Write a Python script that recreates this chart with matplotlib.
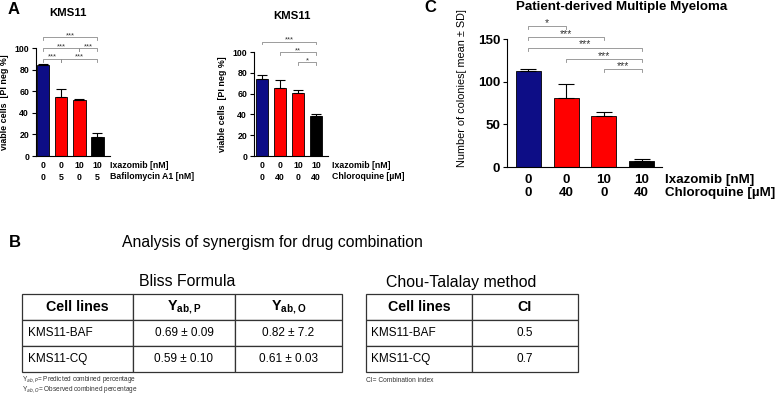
import matplotlib
matplotlib.use('Agg')
import matplotlib.pyplot as plt

plt.rcParams['font.family'] = ['Liberation Sans', 'DejaVu Sans']
plt.rcParams['mathtext.fontset'] = 'custom'
plt.rcParams['mathtext.rm'] = 'Liberation Sans'
plt.rcParams['mathtext.bf'] = 'Liberation Sans:bold'

# ---- data ----
colors = ['#0d0d86', '#ff0000', '#ff0000', '#000000']

baf_vals = [84, 55, 52, 18]
baf_err = [1.5, 7.5, 1.2, 3.5]
baf_ixa = ['0', '0', '10', '10']
baf_baf = ['0', '5', '0', '5']
baf_brackets = [(0, 3, 110, '***'), (0, 2, 100, '***'), (2, 3, 100, '***'),
                (0, 1, 90, '***'), (1, 3, 90, '***')]

cq_vals = [74, 65, 61, 38]
cq_err = [3.5, 8, 2, 2]
cq_ixa = ['0', '0', '10', '10']
cq_cq = ['0', '40', '0', '40']
cq_brackets = [(0, 3, 110, '***'), (1, 3, 100, '**'), (2, 3, 90, '*')]

pat_vals = [112, 81, 60, 7]
pat_err = [3, 16, 5, 2.5]
pat_ixa = ['0', '0', '10', '10']
pat_cq = ['0', '40', '0', '40']
pat_brackets = [(0, 1, 165, '*'), (0, 2, 152, '***'), (0, 3, 140, '***'),
                (1, 3, 127, '***'), (2, 3, 115, '***')]

bliss_header = ['Cell lines', r'$\mathbf{Y_{ab,P}}$', r'$\mathbf{Y_{ab,O}}$']
bliss_rows = [['KMS11-BAF', '0.69 \u00b1 0.09', '0.82 \u00b1 7.2'],
              ['KMS11-CQ', '0.59 \u00b1 0.10', '0.61 \u00b1 0.03']]
chou_header = ['Cell lines', 'CI']
chou_rows = [['KMS11-BAF', '0.5'], ['KMS11-CQ', '0.7']]

W, H = 777, 395
fig = plt.figure(figsize=(W / 100, H / 100), dpi=100)


def px_axes(l, t, r, b):
    return fig.add_axes([l / W, 1 - b / H, (r - l) / W, (b - t) / H])


def bar_panel(box, vals, errs, xlim, ymax, yticks, rows, names, brackets,
              fs, width, ylab, ylab_kw, label_pos, row_y, name_x, star_fs, cap):
    l, t, r, b = box
    ax = px_axes(l, t, r, b)
    x = range(len(vals))
    ax.bar(x, vals, width=width, color=colors, edgecolor='black', linewidth=0.6)
    ax.errorbar(x, vals, yerr=[[0] * len(vals), errs], fmt='none',
                ecolor='black', elinewidth=0.8, capsize=cap, capthick=0.8)
    ax.set_xlim(*xlim)
    ax.set_ylim(0, ymax)
    ax.set_yticks(yticks)
    ax.tick_params(axis='y', direction='out', length=3, width=0.8, pad=2,
                   labelsize=fs)
    for lab in ax.get_yticklabels():
        lab.set_fontweight('bold')
    ax.set_xticks([])
    for s in ['top', 'right']:
        ax.spines[s].set_visible(False)
    for s in ['left', 'bottom']:
        ax.spines[s].set_linewidth(0.8)
    ax.set_ylabel(ylab, **ylab_kw)
    ax.yaxis.set_label_coords(*label_pos)
    hpx = b - t
    for row, ypx in zip(rows, row_y):
        for xi, s in zip(x, row):
            ax.text(xi, (b - ypx) / hpx, s, transform=ax.get_xaxis_transform(),
                    ha='center', va='center', fontsize=fs, fontweight='bold')
    for nm, ypx in zip(names, row_y):
        fig.text(name_x / W, 1 - ypx / H, nm, ha='left', va='center',
                 fontsize=fs, fontweight='bold')
    tick = ymax * 0.025
    for x0, x1, yb, s in brackets:
        ax.plot([x0, x0, x1, x1], [yb - tick, yb, yb, yb - tick], color='#8c8c8c',
                lw=0.6, clip_on=False)
        ax.text((x0 + x1) / 2, yb, s, ha='center', va='baseline',
                fontsize=star_fs, color='#333333', clip_on=False)
    return ax


bar_panel((36, 48, 110, 156), baf_vals, baf_err, (-0.38, 3.69), 100,
          [0, 20, 40, 60, 80, 100], [baf_ixa, baf_baf],
          ['Ixazomib [nM]', 'Bafilomycin A1 [nM]'], baf_brackets, 6.3, 0.7,
          'viable cells  [PI neg %]', dict(fontsize=6.4, fontweight='bold'),
          (-0.37, 0.5), [166, 177], 110, 5.5, 3.5)

bar_panel((254, 52, 328, 156), cq_vals, cq_err, (-0.44, 3.67), 100,
          [0, 20, 40, 60, 80, 100], [cq_ixa, cq_cq],
          ['Ixazomib [nM]', 'Chloroquine [\u00b5M]'], cq_brackets, 6.3, 0.7,
          'viable cells  [PI neg %]', dict(fontsize=6.4, fontweight='bold'),
          (-0.37, 0.5), [166, 177], 332, 5.5, 3.5)

bar_panel((507, 39, 662, 167), pat_vals, pat_err, (-0.57, 3.54), 150,
          [0, 50, 100, 150], [pat_ixa, pat_cq],
          ['Ixazomib [nM]', 'Chloroquine [\u00b5M]'], pat_brackets, 9.6, 0.66,
          'Number of colonies[ mean \u00b1 SD]', dict(fontsize=7.8),
          (-0.26, 0.62), [180, 193], 665, 7.5, 6)

# titles and panel letters
fig.text(68 / W, 1 - 13 / H, 'KMS11', ha='center', va='center', fontsize=8.2,
         fontweight='bold')
fig.text(292 / W, 1 - 16 / H, 'KMS11', ha='center', va='center', fontsize=8.2,
         fontweight='bold')
fig.text(622 / W, 1 - 7 / H, 'Patient-derived Multiple Myeloma', ha='center',
         va='center', fontsize=9.6, fontweight='bold')
for s, xp, yp in [('A', 14, 9), ('B', 15, 243), ('C', 430, 8)]:
    fig.text(xp / W, 1 - yp / H, s, ha='center', va='center', fontsize=12,
             fontweight='bold')

# ---- panel B tables ----
tax = fig.add_axes([0, 0, 1, 1])
tax.axis('off')

fig.text(272 / W, 1 - 243 / H, 'Analysis of synergism for drug combination',
         ha='center', va='center', fontsize=11.3)
fig.text(187 / W, 1 - 282 / H, 'Bliss Formula', ha='center', va='center',
         fontsize=11.4)
fig.text(461 / W, 1 - 282 / H, 'Chou-Talalay method', ha='center', va='center',
         fontsize=11.4)


def make_table(header, rows, box, widths):
    l, t, r, b = box
    tb = tax.table(cellText=rows, colLabels=header, cellLoc='center',
                   colWidths=[w / sum(widths) for w in widths],
                   bbox=[l / W, 1 - b / H, (r - l) / W, (b - t) / H])
    tb.auto_set_font_size(False)
    tb.set_fontsize(8.5)
    for (ri, ci), cell in tb.get_celld().items():
        cell.set_edgecolor('#333333')
        cell.set_linewidth(0.9)
        if ri == 0:
            cell.get_text().set_fontweight('bold')
            cell.get_text().set_fontsize(10.3)
        elif ci == 0:
            cell._loc = 'left'
            cell.PAD = 0.05
            cell.get_text().set_horizontalalignment('left')
    return tb


make_table(bliss_header, bliss_rows, (22, 294, 342, 372), [111, 102, 107])
make_table(chou_header, chou_rows, (366, 294, 578, 372), [106, 106])

fig.text(22 / W, 1 - 384.5 / H,
         'Y$_{ab,P}$= Predicted combined percentage\n'
         'Y$_{ab,O}$= Observed combined percentage',
         ha='left', va='center', fontsize=4.7, color='#333333', linespacing=0.75)
fig.text(366 / W, 1 - 380 / H, 'CI= Combination index', ha='left', va='center',
         fontsize=4.8, color='#333333')

fig.savefig('out.png', dpi=100)
